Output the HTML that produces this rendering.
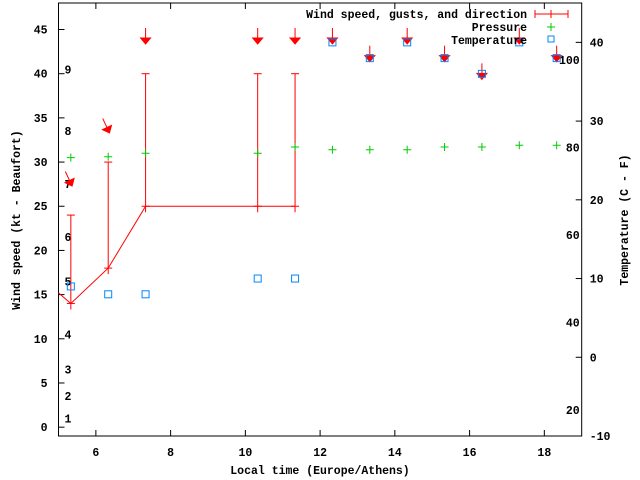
<!DOCTYPE html>
<html><head><meta charset="utf-8"><style>
html,body{margin:0;padding:0;background:#fff}
svg{display:block}
text{font-family:"Liberation Mono",monospace;font-weight:bold;font-size:11.5px;fill:#000}
</style></head><body>
<svg id="chart" width="640" height="480" viewBox="0 0 640 480" xmlns="http://www.w3.org/2000/svg">
<rect width="640" height="480" fill="#fff"/>
<g id="axes"></g>
<g id="marks"></g>
<g id="legend">
<text x="527" y="18" text-anchor="end">Wind speed, gusts, and direction</text>
<line x1="535" y1="14" x2="568" y2="14" stroke="#f00"/>
<line x1="535" y1="10" x2="535" y2="18" stroke="#f00"/><line x1="568" y1="10" x2="568" y2="18" stroke="#f00"/><line x1="551" y1="10" x2="551" y2="18" stroke="#f00"/>
<text x="527" y="31" text-anchor="end">Pressure</text>
<path d="M547 27h8M551 23v8" stroke="#0c0"/>
<text x="527" y="44" text-anchor="end">Temperature</text>
<rect x="548" y="36" width="6" height="6" fill="none" stroke="#08f"/>
</g>
<text x="20" y="220" transform="rotate(-90 20 220)" text-anchor="middle">Wind speed (kt - Beaufort)</text>
<text x="628" y="220" transform="rotate(-90 628 220)" text-anchor="middle">Temperature (C - F)</text>
<text x="320" y="474" text-anchor="middle">Local time (Europe/Athens)</text>
</svg>
<script>
const times=[5.33,6.33,7.33,10.33,11.33,12.33,13.33,14.33,15.33,16.33,17.33,18.33];
const windSpeed=[14,18,25,25,25];
const gusts=[24,30,40,40,40];
const windPrevValue=15.2;
const dirArrowY=[27.6,33.6,43.7,43.7,43.7,43.7,41.7,43.7,41.7,39.7,43.7,41.7];
const dirAngle=[-25,-25,0,0,0,0,0,0,0,0,0,0];
const pressure=[30.5,30.6,31,31,31.7,31.4,31.4,31.4,31.7,31.7,31.9,31.9];
const temperature=[9,8,8,10,10,40,38,40,38,36,40,38];
const xTicks=[6,8,10,12,14,16,18];
const yTicks=[0,5,10,15,20,25,30,35,40,45];
const y2Ticks=[-10,0,10,20,30,40];
const fLabels=[20,40,60,80,100];
const beaufortLabels=["1","2","3","4","5","6","7","8","9"];
const beaufortKt=[1,3.5,6.5,10.5,16.5,21.5,27.5,33.5,40.5];

const L=58.5,R=581.7,T=3,B=436;
const X=t=>L+(t-5)*(R-L)/14;
const Y=v=>B-(v+1)*(B-T)/49;
const Y2=c=>B-(c+10)*(B-T)/55;
const NS='http://www.w3.org/2000/svg';
function mk(tag,attrs,parent,txt){const e=document.createElementNS(NS,tag);for(const k in attrs)e.setAttribute(k,attrs[k]);if(txt!==undefined)e.textContent=txt;parent.appendChild(e);return e;}
const ax=document.getElementById('axes'),mg=document.getElementById('marks');
let f=mk('rect',{x:L,y:T,width:R-L,height:B-T,fill:'none',stroke:'#000'},ax);


xTicks.forEach(t=>{
 mk('line',{x1:X(t),x2:X(t),y1:B,y2:B-6,stroke:'#000'},ax);
 mk('line',{x1:X(t),x2:X(t),y1:T,y2:T+6,stroke:'#000'},ax);
 const e=mk('text',{x:X(t),y:B+20,'text-anchor':'middle'},ax,String(t));
 
 
});
yTicks.forEach(v=>{
 mk('line',{x1:L,x2:L+6,y1:Y(v),y2:Y(v),stroke:'#000'},ax);
 const e=mk('text',{x:L-11,y:Y(v)+4,'text-anchor':'end'},ax,String(v));
 
 
});
y2Ticks.forEach(c=>{
 mk('line',{x1:R-6,x2:R,y1:Y2(c),y2:Y2(c),stroke:'#000'},ax);
 const e=mk('text',{x:R+8,y:Y2(c)+4},ax,String(c));
 
 
});
fLabels.forEach(F=>{
 const e=mk('text',{x:R-2,y:Y2((F-32)*5/9)+4,'text-anchor':'end'},ax,String(F));
 
 
});
beaufortLabels.forEach((b,i)=>{
 const e=mk('text',{x:68,y:Y(beaufortKt[i])+4,'text-anchor':'middle'},ax,b);
 
 
});
// wind line
let pts=[[X(5),Y(windPrevValue)]];
windSpeed.forEach((w,i)=>pts.push([X(times[i]),Y(w)]));
const wl=mk('polyline',{points:pts.map(p=>p.join(',')).join(' '),fill:'none',stroke:'#f00'},mg);


windSpeed.forEach((w,i)=>{
 const x=X(times[i]);
 const g=mk('g',{stroke:'#f00'},mg);
 
 
 mk('line',{x1:x,x2:x,y1:Y(w)+6,y2:Y(gusts[i])},g);
 mk('line',{x1:x-4,x2:x+4,y1:Y(gusts[i]),y2:Y(gusts[i])},g);
 mk('line',{x1:x-4,x2:x+4,y1:Y(w),y2:Y(w)},g);
});
dirArrowY.forEach((v,i)=>{
 const x=X(times[i]),y=Y(v);
 const g=mk('g',{transform:`translate(${x},${y}) rotate(${dirAngle[i]})`},mg);
 
 
 mk('line',{x1:0,y1:-13,x2:0,y2:0,stroke:'#f00'},g);
 mk('path',{d:'M-5,-3 L5,-3 L0,3 Z',fill:'#f00',stroke:'#f00'},g);
});
pressure.forEach((p,i)=>{
 const x=X(times[i]),y=Y(p);
 const e=mk('path',{d:`M${x-4},${y}h8M${x},${y-4}v8`,stroke:'#0c0'},mg);
 
 
});
temperature.forEach((c,i)=>{
 const x=X(times[i]),y=Y2(c);
 const e=mk('rect',{x:x-3.5,y:y-3.5,width:7,height:7,fill:'none',stroke:'#08f'},mg);
 
 
});
</script>
</body></html>
